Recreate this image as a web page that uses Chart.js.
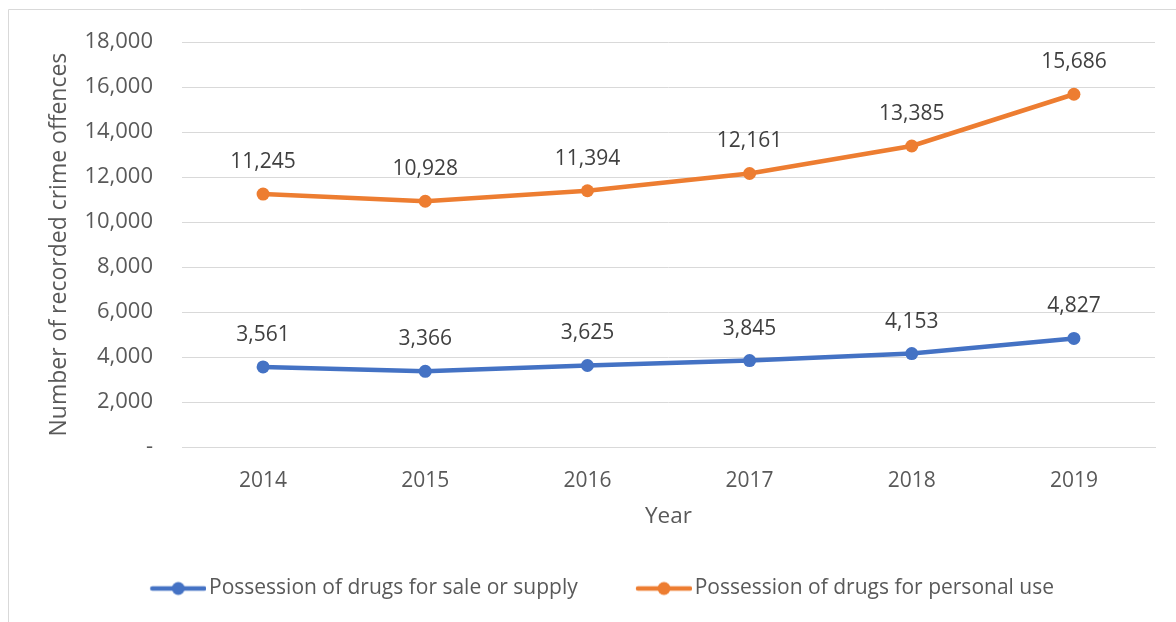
<!DOCTYPE html>
<html>
<head>
<meta charset="utf-8">
<script src="https://cdn.jsdelivr.net/npm/chart.js@4.4.1/dist/chart.umd.min.js"></script>
<style>
  html, body { margin: 0; padding: 0; background: #fff; }
  #wrap { position: relative; width: 1176px; height: 622px; }
</style>
</head>
<body>
<div id="wrap"><canvas id="myChart" width="1176" height="622"></canvas></div>
<script>
const years = ['2014', '2015', '2016', '2017', '2018', '2019']
const saleSupply = [3561, 3366, 3625, 3845, 4153, 4827]
const personalUse = [11245, 10928, 11394, 12161, 13385, 15686]
const seriesNames = ['Possession of drugs for sale or supply', 'Possession of drugs for personal use']
const seriesColors = ['#4472C4', '#ED7D31']

const FONT = "'Open Sans', sans-serif"
const textColor = '#595959'

function fmt(v) {
    return v === 0 ? '-' : v.toLocaleString('en-US')
}

// line + dot icon for the legend (Excel style), with some blank space on the left
function legendIcon(color) {
    const c = document.createElement('canvas')
    c.width = 82
    c.height = 16
    const g = c.getContext('2d')
    g.strokeStyle = color
    g.lineWidth = 4.5
    g.lineCap = 'round'
    g.beginPath()
    g.moveTo(28, 8)
    g.lineTo(80, 8)
    g.stroke()
    g.fillStyle = color
    g.beginPath()
    g.arc(54, 8, 6.5, 0, Math.PI * 2)
    g.fill()
    return c
}

const frame = {
    id: 'frame',
    beforeDraw(chart) {
        const ctx = chart.ctx
        ctx.save()
        ctx.strokeStyle = '#d9d9d9'
        ctx.lineWidth = 1
        ctx.beginPath()
        ctx.moveTo(8.5, 622)
        ctx.lineTo(8.5, 9.5)
        ctx.lineTo(1176, 9.5)
        ctx.stroke()
        ctx.restore()
    }
}

const valueLabels = {
    id: 'valueLabels',
    afterDatasetsDraw(chart) {
        const ctx = chart.ctx
        ctx.save()
        ctx.font = '21px ' + FONT
        ctx.fillStyle = '#404040'
        ctx.textAlign = 'center'
        ctx.textBaseline = 'middle'
        chart.data.datasets.forEach((ds, i) => {
            chart.getDatasetMeta(i).data.forEach((pt, j) => {
                ctx.fillText(fmt(ds.data[j]), pt.x, pt.y - 32)
            })
        })
        ctx.restore()
    }
}

const ctx = document.getElementById('myChart')
const myChart = new Chart(ctx, {
    type: 'line',
    data: {
        labels: years,
        datasets: [
            {label: seriesNames[0], data: saleSupply, borderColor: seriesColors[0], backgroundColor: seriesColors[0]},
            {label: seriesNames[1], data: personalUse, borderColor: seriesColors[1], backgroundColor: seriesColors[1]}
        ]
    },
    options: {
        responsive: false,
        animation: false,
        devicePixelRatio: 1,
        layout: { padding: { top: 26, right: 21, bottom: 13, left: 31 } },
        elements: {
            line: { borderWidth: 4.5, tension: 0 },
            point: { radius: 6.5, hoverRadius: 6.5, borderWidth: 0 }
        },
        plugins: {
            tooltip: { enabled: false },
            legend: {
                position: 'bottom',
                labels: {
                    usePointStyle: true,
                    pointStyleWidth: 66.5,
                    padding: 40,
                    color: textColor,
                    font: { family: FONT, size: 21 },
                    generateLabels(chart) {
                        return chart.data.datasets.map((ds, i) => ({
                            text: ds.label,
                            fillStyle: ds.borderColor,
                            strokeStyle: ds.borderColor,
                            lineWidth: 0,
                            pointStyle: legendIcon(ds.borderColor),
                            fontColor: textColor,
                            datasetIndex: i,
                            hidden: false
                        }))
                    }
                }
            }
        },
        scales: {
            x: {
                offset: true,
                grid: { display: false },
                border: { display: true, color: '#d9d9d9', width: 1 },
                ticks: { color: textColor, font: { family: FONT, size: 21 }, padding: 13, maxRotation: 0 },
                title: { display: true, text: 'Year', color: textColor, font: { family: FONT, size: 22.5 }, padding: { top: 0, bottom: 7.5 } },
                afterFit(scale) { scale.height = 91 }
            },
            y: {
                min: 0,
                max: 18000,
                grid: { color: '#d9d9d9', lineWidth: 1, drawTicks: false },
                border: { display: false },
                ticks: {
                    stepSize: 2000,
                    color: textColor,
                    font: { family: FONT, size: 22 },
                    padding: 29,
                    callback: (v) => fmt(v)
                },
                title: { display: true, text: 'Number of recorded crime offences', color: textColor, font: { family: FONT, size: 23 }, padding: { top: 15, bottom: 0 } },
                afterFit(scale) { scale.width = 151 }
            }
        }
    },
    plugins: [frame, valueLabels]
})
</script>
</body>
</html>
